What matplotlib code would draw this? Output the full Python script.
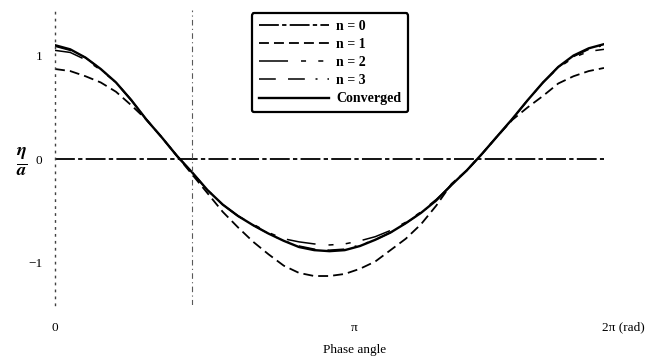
import numpy as np
import matplotlib
matplotlib.use('Agg')
from matplotlib import pyplot as plt
from matplotlib.transforms import ScaledTranslation

# phase angle samples (degrees) and free-surface elevation eta/a per iteration
phase_deg = [0, 10, 20, 30, 40, 50, 60, 70, 80, 90, 100, 110, 120, 130, 140, 150, 160, 170, 180,
             190, 200, 210, 220, 230, 240, 250, 260, 270, 280, 290, 300, 310, 320, 330, 340, 350, 360]
eta_n0 = [0.0] * 37
eta_n1 = [0.87, 0.85, 0.80, 0.74, 0.65, 0.52, 0.38, 0.21, 0.03, -0.15, -0.33, -0.51, -0.66,
          -0.80, -0.92, -1.03, -1.10, -1.13, -1.13, -1.11, -1.06, -0.99, -0.88, -0.77, -0.63,
          -0.45, -0.24, -0.11, 0.05, 0.22, 0.38, 0.50, 0.61, 0.73, 0.80, 0.85, 0.88]
eta_n2 = [1.05, 1.03, 0.96, 0.86, 0.74, 0.57, 0.38, 0.21, 0.03, -0.13, -0.30, -0.44, -0.55,
          -0.63, -0.71, -0.77, -0.80, -0.82, -0.83, -0.82, -0.79, -0.75, -0.69, -0.61, -0.51,
          -0.39, -0.25, -0.11, 0.05, 0.22, 0.39, 0.57, 0.74, 0.88, 0.98, 1.04, 1.06]
eta_n3 = [1.09, 1.05, 0.98, 0.87, 0.74, 0.57, 0.38, 0.21, 0.03, -0.13, -0.30, -0.44, -0.55,
          -0.64, -0.72, -0.79, -0.84, -0.87, -0.88, -0.87, -0.83, -0.78, -0.71, -0.62, -0.52,
          -0.40, -0.25, -0.11, 0.05, 0.22, 0.39, 0.57, 0.74, 0.89, 0.99, 1.06, 1.10]
eta_conv = [1.10, 1.06, 0.98, 0.87, 0.74, 0.57, 0.38, 0.21, 0.03, -0.13, -0.30, -0.44, -0.55,
            -0.64, -0.72, -0.79, -0.85, -0.88, -0.89, -0.88, -0.84, -0.78, -0.71, -0.62, -0.52,
            -0.40, -0.25, -0.11, 0.05, 0.22, 0.39, 0.57, 0.74, 0.89, 1.00, 1.07, 1.11]
labels = ['n = 0', 'n = 1', 'n = 2', 'n = 3', 'Converged']

x = np.deg2rad(phase_deg)
serif = 'Liberation Serif'
plt.rcParams['mathtext.fontset'] = 'stix'

fig = plt.figure(figsize=(6.63, 3.63), dpi=100)
ax = fig.add_axes([55/663, 1 - 305/363, 549/663, 295/363])

ax.plot(x, eta_n0, color='k', lw=1.3, ls=(0, (11, 1.8, 2.4, 1.8)), label=labels[0])
ax.plot(x, eta_n1, color='k', lw=1.3, ls=(0, (5.5, 2.8)), label=labels[1])
ax.plot(x, eta_n2, color='k', lw=1.1, ls=(0, (19, 8.5, 3.3, 8, 3.3, 8)), label=labels[2])
ax.plot(x, eta_n3, color='k', lw=1.1, ls=(0, (11, 8, 11, 7, 1.3, 6.5, 1.3, 6.5)), label=labels[3])
ax.plot(x, eta_conv, color='k', lw=1.7, label=labels[4])

# guide line at a quarter wavelength
ax.axvline(np.pi / 2, color='0.35', lw=0.8, ls=(0, (5, 3, 1, 3)))

ax.set_xlim(0, 2 * np.pi)
ax.set_ylim(-1.41, 1.44)
for s in ['top', 'right', 'bottom']:
    ax.spines[s].set_visible(False)
ax.spines['left'].set_linestyle((0, (1, 4)))
ax.spines['left'].set_linewidth(1.0)
ax.spines['left'].set_color('0.25')

ax.set_yticks([-1, 0, 1])
ax.set_yticklabels(['\u22121', '0', '1'], fontfamily=serif, fontsize=9.5)
ax.set_xticks([0, np.pi, 2 * np.pi])
ax.set_xticklabels(['0', '\u03c0', '2\u03c0 (rad)'], fontfamily=serif, fontsize=9.5)
ax.tick_params(axis='both', length=0)
ax.tick_params(axis='y', pad=9)
ax.tick_params(axis='x', pad=12)
xt = ax.get_xticklabels()
xt[1].set_transform(xt[1].get_transform() + ScaledTranslation(0.25, 0, fig.dpi_scale_trans))
xt[2].set_transform(xt[2].get_transform() + ScaledTranslation(0.19, 0, fig.dpi_scale_trans))

fig.text(355/663, 1 - 350/363, 'Phase angle', ha='center', va='center',
         fontfamily=serif, fontsize=9.5)

fig.text(22/663, 1 - 162/363, r'$\mathbfit{\frac{\eta}{a}}$', ha='center', va='center',
         fontsize=19)

leg = ax.legend(loc='upper center', bbox_to_anchor=(330/663, 1 - 6/363),
                bbox_transform=fig.transFigure, handlelength=5.1, handletextpad=0.5,
                labelspacing=0.37, borderpad=0.5, fancybox=True,
                prop={'family': serif, 'weight': 'bold', 'size': 10})
leg.get_frame().set_edgecolor('k')
leg.get_frame().set_linewidth(1.6)
leg.get_frame().set_alpha(1)

fig.savefig('out.png', dpi=100)
